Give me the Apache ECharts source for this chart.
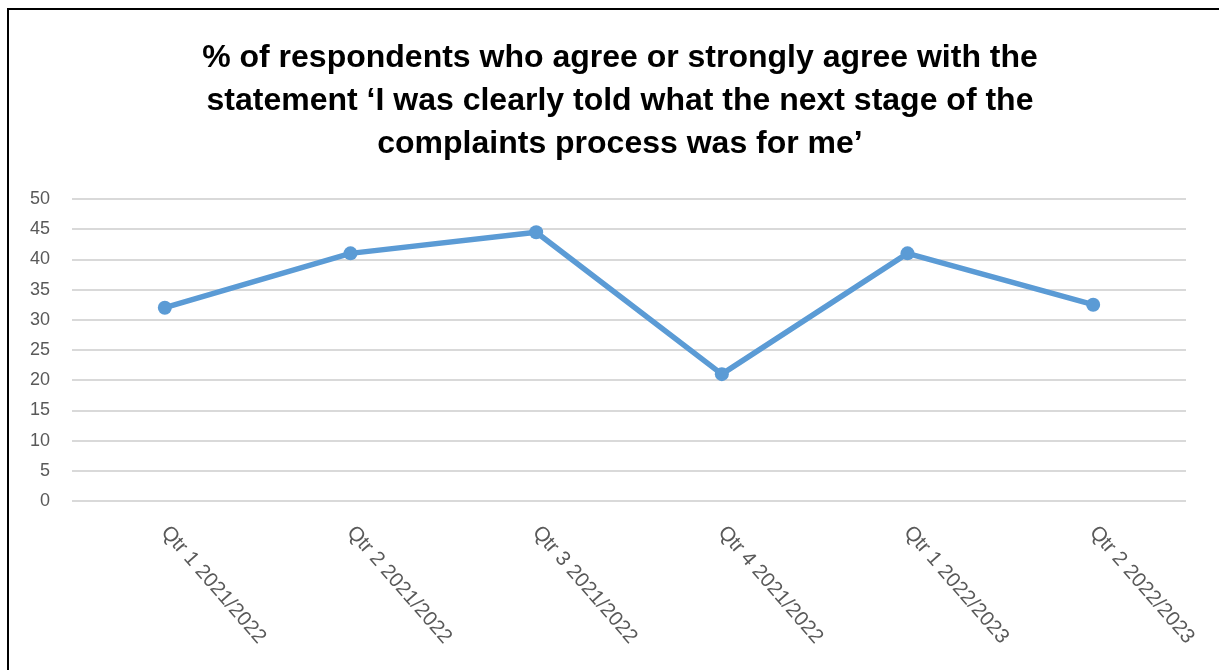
<!DOCTYPE html>
<html>
<head>
<meta charset="utf-8">
<script src="https://cdn.jsdelivr.net/npm/echarts@6/dist/echarts.min.js"></script>
<style>
  html, body { margin: 0; padding: 0; background: #fff; }
  #chart { width: 1219px; height: 670px; }
</style>
</head>
<body>
<div id="chart"></div>
<script>
const quarters = [
  "Qtr 1 2021/2022",
  "Qtr 2 2021/2022",
  "Qtr 3 2021/2022",
  "Qtr 4 2021/2022",
  "Qtr 1 2022/2023",
  "Qtr 2 2022/2023"
];
const agreePct = [32, 41, 44.5, 21, 41, 32.5];

const titleText = "% of respondents who agree or strongly agree with the\nstatement \u2018I was clearly told what the next stage of the\ncomplaints process was for me\u2019";

const chart = echarts.init(document.getElementById("chart"));

chart.setOption({
  animation: false,
  backgroundColor: "#ffffff",
  textStyle: { fontFamily: "Liberation Sans, Arial, sans-serif" },
  title: {
    text: titleText,
    left: 615,
    textAlign: "center",
    top: 32,
    textStyle: {
      fontFamily: "Liberation Sans, Arial, sans-serif",
      fontSize: 32,
      fontWeight: "bold",
      color: "#000",
      lineHeight: 43
    }
  },
  graphic: [
    {
      type: "rect",
      shape: { x: 8, y: 9, width: 1300, height: 800 },
      style: { fill: "none", stroke: "#000", lineWidth: 2 },
      silent: true
    }
  ],
  grid: {
    left: 72,
    right: 33,
    top: 199,
    bottom: 169
  },
  xAxis: {
    type: "category",
    data: quarters,
    boundaryGap: true,
    axisLine: { show: false },
    axisTick: { show: false },
    axisLabel: {
      rotate: -49,
      interval: 0,
      margin: 28,
      fontSize: 20.5,
      color: "#595959"
    }
  },
  yAxis: {
    type: "value",
    min: 0,
    max: 50,
    interval: 5,
    axisLine: { show: false },
    axisTick: { show: false },
    axisLabel: {
      fontSize: 18,
      color: "#595959",
      margin: 22
    },
    splitLine: {
      lineStyle: { color: "#d9d9d9", width: 2 }
    }
  },
  series: [
    {
      type: "line",
      data: agreePct,
      symbol: "circle",
      symbolSize: 14,
      lineStyle: { color: "#5b9bd5", width: 5.5 },
      itemStyle: { color: "#5b9bd5" }
    }
  ]
});
</script>
</body>
</html>
